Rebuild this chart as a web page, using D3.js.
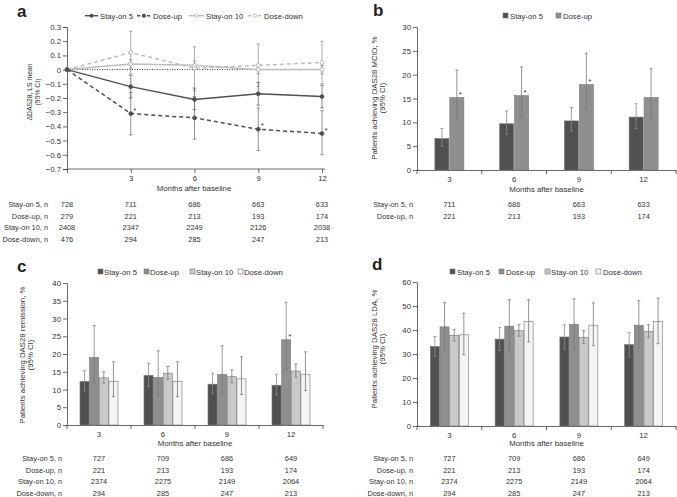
<!DOCTYPE html>
<html><head><meta charset="utf-8">
<script src="https://cdn.jsdelivr.net/npm/d3@7"></script>
<style>
html,body{margin:0;padding:0;background:#fff;}
svg{display:block;font-family:"Liberation Sans",Arial,Helvetica,sans-serif;}
.axis text{font-size:7.8px;fill:#333;}
.axis path,.axis line{stroke:#444;stroke-width:0.8;}
</style></head>
<body>
<svg id="c" width="677" height="497"></svg>
<script>
// ---------------- DATA ----------------
const monthsA = [0, 3, 6, 9, 12];
const months = [3, 6, 9, 12];
const groups4 = ["Stay-on 5", "Dose-up", "Stay-on 10", "Dose-down"];
const groups2 = ["Stay-on 5", "Dose-up"];

// Panel a: change in DAS28 (LS mean, 95% CI)
const aStay5 = [0, -0.12, -0.21, -0.17, -0.19];
const aStay5Lo = [0, -0.20, -0.28, -0.25, -0.27];
const aStay5Hi = [0, -0.04, -0.13, -0.09, -0.11];
const aDoseUp = [0, -0.31, -0.34, -0.42, -0.45];
const aDoseUpLo = [0, -0.46, -0.49, -0.57, -0.60];
const aDoseUpHi = [0, -0.16, -0.19, -0.27, -0.29];
const aStay10 = [0, 0.04, 0.03, 0.00, 0.00];
const aStay10Lo = [0, 0.01, 0.00, -0.03, -0.03];
const aStay10Hi = [0, 0.07, 0.06, 0.03, 0.03];
const aDoseDown = [0, 0.12, 0.01, 0.03, 0.05];
const aDoseDownLo = [0, -0.03, -0.15, -0.12, -0.10];
const aDoseDownHi = [0, 0.27, 0.16, 0.18, 0.20];
const aStarIdx = [1, 3, 4];
const aYTicks = [0.3, 0.2, 0.1, 0, -0.1, -0.2, -0.3, -0.4, -0.5, -0.6, -0.7];
const aNStay5 = [728, 711, 686, 663, 633];
const aNDoseUp = [279, 221, 213, 193, 174];
const aNStay10 = [2408, 2347, 2249, 2126, 2038];
const aNDoseDown = [476, 294, 285, 247, 213];

// Panel b: DAS28 MCID (%)
const bStay5 = [6.6, 9.7, 10.3, 11.1];
const bStay5Lo = [5.0, 7.5, 8.1, 8.7];
const bStay5Hi = [8.7, 12.4, 13.1, 13.9];
const bDoseUp = [15.2, 15.6, 17.9, 15.2];
const bDoseUpLo = [10.8, 11.1, 12.9, 10.6];
const bDoseUpHi = [21.0, 21.6, 24.5, 21.3];
const bStar = [true, true, true, false];
const bNStay5 = [711, 686, 663, 633];
const bNDoseUp = [221, 213, 193, 174];

// Panel c: DAS28 remission (%)
const cStay5 = [12.3, 14.0, 11.5, 11.2];
const cStay5Lo = [9.6, 10.9, 8.9, 8.5];
const cStay5Hi = [15.3, 17.4, 14.6, 14.3];
const cDoseUp = [19.0, 13.4, 14.2, 24.0];
const cDoseUpLo = [12.0, 8.2, 8.6, 15.8];
const cDoseUpHi = [28.0, 20.9, 22.3, 34.6];
const cStay10 = [13.3, 14.6, 13.6, 15.2];
const cStay10Lo = [11.8, 12.9, 11.9, 13.5];
const cStay10Hi = [15.0, 16.5, 15.5, 17.2];
const cDoseDown = [12.3, 12.3, 13.0, 14.3];
const cDoseDownLo = [8.0, 8.0, 8.6, 9.7];
const cDoseDownHi = [17.8, 17.8, 19.2, 20.6];
const cStar = [false, false, false, true];

// Panel d: DAS28 LDA (%)
const dStay5 = [33.1, 36.2, 37.1, 33.9];
const dStay5Lo = [29.0, 31.5, 32.1, 28.8];
const dStay5Hi = [37.3, 41.0, 42.2, 39.0];
const dDoseUp = [41.3, 41.6, 42.3, 42.0];
const dDoseUpLo = [32.0, 31.0, 32.3, 32.3];
const dDoseUpHi = [51.4, 52.6, 53.0, 52.2];
const dStay10 = [37.8, 39.8, 37.0, 39.4];
const dStay10Lo = [35.5, 37.4, 34.4, 36.9];
const dStay10Hi = [40.3, 42.3, 39.7, 42.2];
const dDoseDown = [38.0, 43.6, 42.0, 43.6];
const dDoseDownLo = [29.7, 35.0, 33.5, 34.3];
const dDoseDownHi = [47.0, 52.6, 51.3, 53.3];
const dStar = [false, false, false, false];

const cdNStay5 = [727, 709, 686, 649];
const cdNDoseUp = [221, 213, 193, 174];
const cdNStay10 = [2374, 2275, 2149, 2064];
const cdNDoseDown = [294, 285, 247, 213];

// ---------------- STYLE ----------------
const barFill = {"Stay-on 5": "#505050", "Dose-up": "#8f8f8f", "Stay-on 10": "#c9c9c9", "Dose-down": "#f4f4f4"};
const svg = d3.select("#c");
const fmt = v => v === 0 ? "0" : (v < 0 ? "\u2212" + d3.format(".1f")(-v) : d3.format(".1f")(v));
const TXT = "#333";

function panelLetter(x, y, t) {
  svg.append("text").attr("x", x).attr("y", y).attr("font-size", 17).attr("font-weight", "bold").attr("fill", "#222").text(t);
}
function yLabel(x, y, lines, fs, gap) {
  const t = svg.append("text").attr("transform", `translate(${x},${y}) rotate(-90)`).attr("text-anchor", "middle").attr("font-size", fs).attr("fill", TXT);
  lines.forEach((l, i) => t.append("tspan").attr("x", 0).attr("dy", i === 0 ? 0 : gap).text(l));
}
function table(labelX, xs, ys, labels, rows) {
  rows.forEach((r, i) => {
    svg.append("text").attr("x", labelX).attr("y", ys[i]).attr("text-anchor", "end").attr("font-size", 7.4).attr("fill", TXT).text(labels[i]);
    r.forEach((v, j) => svg.append("text").attr("x", xs[j]).attr("y", ys[i]).attr("text-anchor", "middle").attr("font-size", 7.4).attr("fill", TXT).text(v));
  });
}
function squareLegend(items, y) {
  items.forEach(it => {
    svg.append("rect").attr("x", it.sx).attr("y", y - 5.5).attr("width", 5).attr("height", 5).attr("fill", barFill[it.name]).attr("stroke", "#777").attr("stroke-width", 0.6);
    svg.append("text").attr("x", it.tx).attr("y", y).attr("font-size", 7.7).attr("fill", TXT).text(it.name);
  });
}

// ---------------- PANEL A ----------------
(function () {
  const x = d3.scaleLinear().domain([0, 12]).range([67, 322]);
  const y = d3.scaleLinear().domain([-0.7, 0.3]).range([169, 27]);
  svg.append("g").attr("class", "axis").attr("transform", "translate(67,0)")
    .call(d3.axisLeft(y).tickValues(aYTicks).tickSize(4).tickPadding(2).tickFormat(fmt));
  const gx = svg.append("g").attr("class", "axis").attr("transform", "translate(0,169)")
    .call(d3.axisBottom(x).tickValues(monthsA).tickSize(4).tickPadding(2).tickSizeOuter(0).tickFormat(d => d === 0 ? "" : d));
  gx.select(".domain").attr("d", "M67,0H325");
  // zero reference line
  svg.append("line").attr("x1", x(0)).attr("x2", x(12)).attr("y1", y(0)).attr("y2", y(0))
    .attr("stroke", "#222").attr("stroke-width", 0.9).attr("stroke-dasharray", "1,1.5");

  const series = [
    {v: aStay10, lo: aStay10Lo, hi: aStay10Hi, col: "#bdbdbd", dash: null, open: true, ecol: "#999"},
    {v: aDoseDown, lo: aDoseDownLo, hi: aDoseDownHi, col: "#bdbdbd", dash: "4,3", open: true, ecol: "#999"},
    {v: aStay5, lo: aStay5Lo, hi: aStay5Hi, col: "#4f4f4f", dash: null, open: false, ecol: "#666"},
    {v: aDoseUp, lo: aDoseUpLo, hi: aDoseUpHi, col: "#4f4f4f", dash: "4,3", open: false, ecol: "#777"}
  ];
  series.forEach(s => {
    const g = svg.append("g");
    monthsA.forEach((m, i) => {
      if (i === 0) return;
      g.append("line").attr("x1", x(m)).attr("x2", x(m)).attr("y1", y(s.lo[i])).attr("y2", y(s.hi[i])).attr("stroke", s.ecol).attr("stroke-width", 0.8);
      [s.lo[i], s.hi[i]].forEach(e => g.append("line").attr("x1", x(m) - 1.8).attr("x2", x(m) + 1.8).attr("y1", y(e)).attr("y2", y(e)).attr("stroke", s.ecol).attr("stroke-width", 0.8));
    });
  });
  series.forEach(s => {
    const line = d3.line().x((d, i) => x(monthsA[i])).y(d => y(d));
    svg.append("path").datum(s.v).attr("d", line).attr("fill", "none").attr("stroke", s.col).attr("stroke-width", 1.5).attr("stroke-dasharray", s.dash);
    s.v.forEach((d, i) => svg.append("circle").attr("cx", x(monthsA[i])).attr("cy", y(d)).attr("r", 1.9)
      .attr("fill", s.open ? "#fff" : s.col).attr("stroke", s.open ? "#aaa" : s.col).attr("stroke-width", 0.8));
  });
  aStarIdx.forEach(i => svg.append("text").attr("x", x(monthsA[i]) + 2.5).attr("y", y(aDoseUp[i]) - 1).attr("font-size", 8).attr("fill", TXT).text("*"));

  // legend
  const ly = 18.5;
  const leg = [
    {x1: 85, x2: 98, tx: 100, col: "#4f4f4f", dash: null, open: false, name: "Stay-on 5"},
    {x1: 137, x2: 151, tx: 153, col: "#4f4f4f", dash: "3,2", open: false, name: "Dose-up"},
    {x1: 189, x2: 204, tx: 206, col: "#bdbdbd", dash: null, open: true, name: "Stay-on 10"},
    {x1: 248, x2: 262, tx: 264, col: "#bdbdbd", dash: "3,2", open: true, name: "Dose-down"}
  ];
  leg.forEach(l => {
    svg.append("line").attr("x1", l.x1).attr("x2", l.x2).attr("y1", ly - 2.8).attr("y2", ly - 2.8).attr("stroke", l.col).attr("stroke-width", 1.4).attr("stroke-dasharray", l.dash);
    svg.append("circle").attr("cx", (l.x1 + l.x2) / 2).attr("cy", ly - 2.8).attr("r", 1.7).attr("fill", l.open ? "#fff" : l.col).attr("stroke", l.open ? "#aaa" : l.col).attr("stroke-width", 0.7);
    svg.append("text").attr("x", l.tx).attr("y", ly).attr("font-size", 7.7).attr("fill", TXT).text(l.name);
  });

  panelLetter(17, 17, "a");
  yLabel(32, 92, ["\u0394DAS28, LS mean", "(95% CI)"], 6.8, 7.8);
  svg.append("text").attr("x", 194).attr("y", 191).attr("text-anchor", "middle").attr("font-size", 7.8).attr("fill", TXT).text("Months after baseline");
  table(48, monthsA.map(m => x(m)), [207, 218.5, 230, 241.5],
    ["Stay-on 5, n", "Dose-up, n", "Stay-on 10, n", "Dose-down, n"],
    [aNStay5, aNDoseUp, aNStay10, aNDoseDown]);
})();

// ---------------- BAR PANELS ----------------
function barPanel(opt) {
  const x0 = d3.scaleBand().domain(months).range([opt.x0, opt.x1]).padding(0);
  const y = d3.scaleLinear().domain([0, opt.ymax]).range([opt.yb, opt.yt]);
  svg.append("g").attr("class", "axis").attr("transform", `translate(${opt.x0},0)`)
    .call(d3.axisLeft(y).tickValues(opt.yTicks).tickSize(4).tickPadding(2).tickSizeOuter(0));
  const gx = svg.append("g").attr("class", "axis").attr("transform", `translate(0,${opt.yb})`)
    .call(d3.axisBottom(x0).tickSize(0).tickPadding(6).tickSizeOuter(0));
  const bounds = [opt.x0].concat(months.map(m => x0(m) + x0.bandwidth()));
  bounds.forEach(b => gx.append("line").attr("x1", b).attr("x2", b).attr("y1", 0).attr("y2", 4).attr("stroke", "#444").attr("stroke-width", 0.8));

  const inner = d3.scaleBand().domain(opt.groups).range([0, opt.groupW]).paddingInner(0.06);
  opt.series.forEach((s, si) => {
    const name = opt.groups[si];
    months.forEach((m, i) => {
      const bx = x0(m) + x0.bandwidth() / 2 - opt.groupW / 2 + inner(name);
      const bw = inner.bandwidth();
      svg.append("rect").attr("x", bx).attr("y", y(s.v[i])).attr("width", bw).attr("height", y(0) - y(s.v[i]))
        .attr("fill", barFill[name]).attr("stroke", "#777").attr("stroke-width", 0.6);
    });
  });
  opt.series.forEach((s, si) => {
    const name = opt.groups[si];
    months.forEach((m, i) => {
      const cx = x0(m) + x0.bandwidth() / 2 - opt.groupW / 2 + inner(name) + inner.bandwidth() / 2;
      const col = si === 0 ? "#8a8a8a" : "#7a7a7a";
      svg.append("line").attr("x1", cx).attr("x2", cx).attr("y1", y(s.lo[i])).attr("y2", y(s.hi[i])).attr("stroke", col).attr("stroke-width", 0.8);
      [s.lo[i], s.hi[i]].forEach(e => svg.append("line").attr("x1", cx - 1.5).attr("x2", cx + 1.5).attr("y1", y(e)).attr("y2", y(e)).attr("stroke", col).attr("stroke-width", 0.8));
      if (si === 1 && opt.star[i]) {
        svg.append("text").attr("x", cx + 2).attr("y", y(s.v[i]) - 1).attr("font-size", 8).attr("fill", TXT).text("*");
      }
    });
  });
  svg.append("text").attr("x", (opt.x0 + opt.x1) / 2).attr("y", opt.xlabY).attr("text-anchor", "middle").attr("font-size", 7.8).attr("fill", TXT).text("Months after baseline");
  table(opt.tblX, months.map(m => x0(m) + x0.bandwidth() / 2), opt.tblY, opt.tblLabels, opt.tblRows);
}

// Panel b
barPanel({
  x0: 417, x1: 676, yb: 170, yt: 27, ymax: 30, yTicks: [0, 5, 10, 15, 20, 25, 30],
  groups: groups2, groupW: 29,
  series: [{v: bStay5, lo: bStay5Lo, hi: bStay5Hi}, {v: bDoseUp, lo: bDoseUpLo, hi: bDoseUpHi}],
  star: bStar, xlabY: 192, tblX: 413, tblY: [207, 218.5],
  tblLabels: ["Stay-on 5, n", "Dose-up, n"], tblRows: [bNStay5, bNDoseUp]
});
panelLetter(373, 16, "b");
yLabel(377, 98, ["Patients achieving DAS28 MCID, %", "(95% CI)"], 7.8, 8.3);
squareLegend([{name: "Stay-on 5", sx: 503, tx: 510}, {name: "Dose-up", sx: 556, tx: 563}], 18.5);

// Panel c
barPanel({
  x0: 67, x1: 323, yb: 425, yt: 283, ymax: 40, yTicks: [0, 5, 10, 15, 20, 25, 30, 35, 40],
  groups: groups4, groupW: 38,
  series: [{v: cStay5, lo: cStay5Lo, hi: cStay5Hi}, {v: cDoseUp, lo: cDoseUpLo, hi: cDoseUpHi},
           {v: cStay10, lo: cStay10Lo, hi: cStay10Hi}, {v: cDoseDown, lo: cDoseDownLo, hi: cDoseDownHi}],
  star: cStar, xlabY: 446, tblX: 62, tblY: [461, 472.5, 484, 495.5],
  tblLabels: ["Stay-on 5, n", "Dose-up, n", "Stay-on 10, n", "Dose-down, n"],
  tblRows: [cdNStay5, cdNDoseUp, cdNStay10, cdNDoseDown]
});
panelLetter(17, 272, "c");
yLabel(25, 355, ["Patients achieving DAS28 remission, %", "(95% CI)"], 7.8, 8.3);
squareLegend([{name: "Stay-on 5", sx: 98, tx: 104}, {name: "Dose-up", sx: 144, tx: 150},
              {name: "Stay-on 10", sx: 190, tx: 196}, {name: "Dose-down", sx: 238, tx: 244}], 274.5);

// Panel d
barPanel({
  x0: 417, x1: 676, yb: 426, yt: 282, ymax: 60, yTicks: [0, 10, 20, 30, 40, 50, 60],
  groups: groups4, groupW: 38,
  series: [{v: dStay5, lo: dStay5Lo, hi: dStay5Hi}, {v: dDoseUp, lo: dDoseUpLo, hi: dDoseUpHi},
           {v: dStay10, lo: dStay10Lo, hi: dStay10Hi}, {v: dDoseDown, lo: dDoseDownLo, hi: dDoseDownHi}],
  star: dStar, xlabY: 446, tblX: 413, tblY: [461, 472.5, 484, 495.5],
  tblLabels: ["Stay-on 5, n", "Dose-up, n", "Stay-on 10, n", "Dose-down, n"],
  tblRows: [cdNStay5, cdNDoseUp, cdNStay10, cdNDoseDown]
});
panelLetter(372, 270, "d");
yLabel(377, 349, ["Patients achieving DAS28 LDA, %", "(95% CI)"], 7.8, 8.3);
squareLegend([{name: "Stay-on 5", sx: 450, tx: 457}, {name: "Dose-up", sx: 499, tx: 506},
              {name: "Stay-on 10", sx: 545, tx: 551}, {name: "Dose-down", sx: 596, tx: 603}], 274.5);
</script>
</body></html>
